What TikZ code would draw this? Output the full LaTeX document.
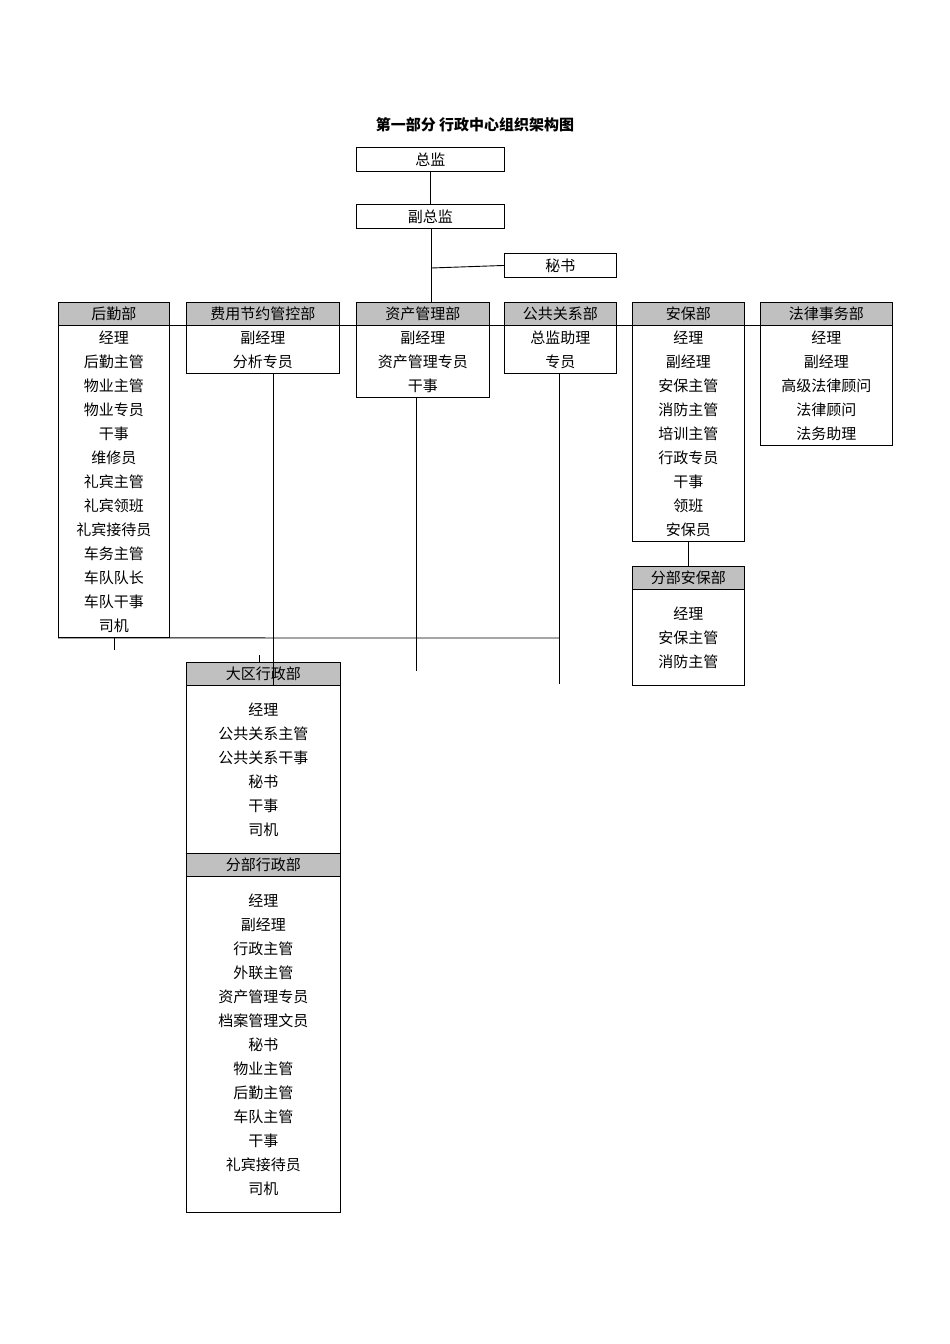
\documentclass[tikz,border=0pt]{standalone}
\usepackage{fontspec}
\setmainfont{Noto Sans CJK SC}
\begin{document}
\begin{tikzpicture}[x=1pt,y=-1pt,line width=0.9pt,
  hdr/.style={draw,fill={rgb,255:red,192;green,192;blue,192},inner sep=0pt,minimum height=23pt,font=\fontsize{15}{24}\selectfont,anchor=north west},
  bodyb/.style={draw,inner sep=0pt,align=center,font=\fontsize{15}{24}\selectfont,anchor=north west},
  plain/.style={draw,inner sep=0pt,minimum height=24pt,font=\fontsize{15}{24}\selectfont,anchor=north west}]
\useasboundingbox (0,0) rectangle (950,1344);
\newcommand\dept[6]{% name, x, width, ytop, header, nrows, body via #6? 
}
\newcommand\mkdept[7]{%
  \node[hdr,minimum width=#3] (#1h) at (#2,#4) {#5};
  \node[bodyb,minimum width=#3,minimum height=#6*24] (#1) at (#2,#4+23) {#7};}
\node[font=\fontsize{15}{18}\selectfont\bfseries] (title) at (475,125) {第一部分 行政中心组织架构图};
\node[plain,minimum width=148] (zj) at (356,147) {总监};
\node[plain,minimum width=148] (fzj) at (356,204) {副总监};
\node[plain,minimum width=112] (ms) at (504,253) {秘书};
\mkdept{hq}{58}{111}{302}{后勤部}{13}{经理\\后勤主管\\物业主管\\物业专员\\干事\\维修员\\礼宾主管\\礼宾领班\\礼宾接待员\\车务主管\\车队队长\\车队干事\\司机}
\mkdept{fy}{186}{153}{302}{费用节约管控部}{2}{副经理\\分析专员}
\mkdept{zc}{356}{133}{302}{资产管理部}{3}{副经理\\资产管理专员\\干事}
\mkdept{gg}{504}{112}{302}{公共关系部}{2}{总监助理\\专员}
\mkdept{ab}{632}{112}{302}{安保部}{9}{经理\\副经理\\安保主管\\消防主管\\培训主管\\行政专员\\干事\\领班\\安保员}
\mkdept{fl}{760}{132}{302}{法律事务部}{5}{经理\\副经理\\高级法律顾问\\法律顾问\\法务助理}
\mkdept{fb}{632}{112}{566}{分部安保部}{4}{经理\\安保主管\\消防主管}
\mkdept{dq}{186}{154}{662}{大区行政部}{7}{经理\\公共关系主管\\公共关系干事\\秘书\\干事\\司机}
\mkdept{fx}{186}{154}{853}{分部行政部}{14}{经理\\副经理\\行政主管\\外联主管\\资产管理专员\\档案管理文员\\秘书\\物业主管\\后勤主管\\车队主管\\干事\\礼宾接待员\\司机}
% connectors
\draw (zj.south) -- (fzj.north);
\draw (fzj.south -| 431,0) -- (zch.north -| 431,0);
\coordinate (mj) at (431,268);
\draw (mj) -- (ms.west);
\draw (hqh.south east) -- (fyh.south west);
\draw (fyh.south east) -- (zch.south west);
\draw (zch.south east) -- (ggh.south west);
\draw (ggh.south east) -- (abh.south west);
\draw (abh.south east) -- (flh.south west);
\draw (ab.south) -- (fbh.north);
\coordinate (a1) at (273,685);
\draw (fy.south -| a1) -- (a1);
\coordinate (a2) at (416,671);
\draw (zc.south -| a2) -- (a2);
\coordinate (a3) at (559,684);
\draw (gg.south -| a3) -- (a3);
\coordinate (a4) at (559,638);
\draw (hq.south west) -- (a4);
\coordinate (t1) at (114,650);
\draw (hq.south -| t1) -- (t1);
\coordinate (t2) at (259,655);
\draw (t2) -- (dqh.north -| t2);
\draw (dq.south -| 259,0) -- (fxh.north -| 259,0);
\end{tikzpicture}
\end{document}
